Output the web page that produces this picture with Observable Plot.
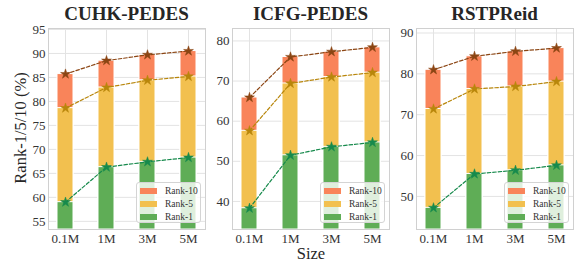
<!DOCTYPE html>
<html><head><meta charset="utf-8">
<script src="https://cdn.jsdelivr.net/npm/d3@7"></script>
<script src="https://cdn.jsdelivr.net/npm/@observablehq/plot@0.6"></script>
<style>
body{margin:0;background:#fff;}
#root{position:relative;width:575px;height:264px;overflow:hidden;font-family:"Liberation Serif","Times New Roman",serif;color:#222;}
.panel{position:absolute;top:0;}
.title{position:absolute;top:3px;font-weight:bold;font-size:19px;text-align:center;white-space:nowrap;color:#262626;}
.ylab{position:absolute;font-size:16.5px;white-space:nowrap;transform:translate(-50%,-50%) rotate(-90deg);color:#262626;}
.xlab{position:absolute;font-size:16.5px;white-space:nowrap;transform:translateX(-50%);color:#262626;}
.legend{position:absolute;width:65px;height:41px;background:rgba(255,255,255,0.8);border:1px solid #d4d4d4;border-radius:3px;box-sizing:border-box;}
.lrow{position:absolute;left:3px;height:13px;display:flex;align-items:center;font-size:9.5px;color:#333;}
.patch{width:17px;height:6px;margin-right:8px;}
</style></head><body><div id="root"></div>
<script>
const sizes = ["0.1M", "1M", "3M", "5M"];
const datasets = ["CUHK-PEDES", "ICFG-PEDES", "RSTPReid"];
const seriesNames = ["Rank-10", "Rank-5", "Rank-1"];

const cuhkRank10 = [85.7, 88.5, 89.7, 90.5];
const cuhkRank5  = [78.6, 82.9, 84.4, 85.2];
const cuhkRank1  = [59.0, 66.3, 67.4, 68.3];

const icfgRank10 = [65.9, 76.0, 77.3, 78.4];
const icfgRank5  = [57.6, 69.4, 71.0, 72.1];
const icfgRank1  = [38.3, 51.5, 53.6, 54.7];

const rstpRank10 = [81.0, 84.3, 85.5, 86.3];
const rstpRank5  = [71.4, 76.3, 76.9, 78.1];
const rstpRank1  = [47.2, 55.5, 56.4, 57.6];

const cuhkTicks = [55, 60, 65, 70, 75, 80, 85, 90, 95];
const icfgTicks = [40, 50, 60, 70, 80];
const rstpTicks = [50, 60, 70, 80, 90];

const barColors = ["#F9845A", "#F2C04F", "#5FAD56"];
const lineColors = ["#8B4513", "#B8860B", "#168A4C"];

const panelData = [
  {name: datasets[0], series: [cuhkRank10, cuhkRank5, cuhkRank1], ticks: cuhkTicks, domain: [53.3, 95.2]},
  {name: datasets[1], series: [icfgRank10, icfgRank5, icfgRank1], ticks: icfgTicks, domain: [33.0, 83.1]},
  {name: datasets[2], series: [rstpRank10, rstpRank5, rstpRank1], ticks: rstpTicks, domain: [41.9, 91.1]}
];

const layout = [
  {left: 0, ml: 48},
  {left: 190, ml: 42},
  {left: 375, ml: 41}
];
const innerW = 157, mr = 1, mt = 28, mb = 35, H = 264;

const root = document.getElementById("root");

panelData.forEach((p, pi) => {
  const L = layout[pi];
  const marks = [
    Plot.gridY(p.ticks, {stroke: "#e3e3e3", strokeOpacity: 1, strokeWidth: 1}),
    Plot.gridX(sizes, {stroke: "#e3e3e3", strokeOpacity: 1, strokeWidth: 1}),
  ];
  p.series.forEach((vals, si) => {
    const rows = sizes.map((s, i) => ({size: s, value: vals[i]}));
    marks.push(Plot.barY(rows, {x: "size", y1: p.domain[0], y2: "value", fill: barColors[si], stroke: "white", strokeWidth: 1}));
  });
  marks.push(Plot.frame({stroke: "#d0d0d0", strokeWidth: 1}));
  p.series.forEach((vals, si) => {
    const rows = sizes.map((s, i) => ({size: s, value: vals[i]}));
    marks.push(Plot.line(rows, {x: "size", y: "value", stroke: lineColors[si], strokeWidth: 1.2, strokeDasharray: "3.5,2"}));
  });
  p.series.forEach((vals, si) => {
    const rows = sizes.map((s, i) => ({size: s, value: vals[i]}));
    marks.push(Plot.dot(rows, {x: "size", y: "value", symbol: "star", r: 3.1, fill: lineColors[si], stroke: lineColors[si], strokeWidth: 0.5}));
  });
  marks.push(Plot.axisY(p.ticks, {tickSize: 0, tickPadding: 3, fontSize: 13, label: null}));
  marks.push(Plot.axisX({tickSize: 0, tickPadding: 4, fontSize: 13, label: null}));

  const chart = Plot.plot({
    width: L.ml + innerW + mr,
    height: H,
    marginTop: mt, marginBottom: mb, marginLeft: L.ml, marginRight: mr,
    style: {fontFamily: '"Liberation Serif","Times New Roman",serif', fontSize: "13px", color: "#333", background: "transparent", overflow: "visible"},
    x: {domain: sizes, paddingInner: 0.6, paddingOuter: 0.17, label: null},
    y: {domain: p.domain, label: null},
    marks
  });
  chart.classList.add("panel");
  chart.style.left = L.left + "px";
  root.appendChild(chart);

  const frameL = L.left + L.ml;
  const frameR = frameL + innerW;

  const t = document.createElement("div");
  t.className = "title";
  t.textContent = p.name;
  t.style.left = frameL + "px";
  t.style.width = innerW + "px";
  root.appendChild(t);

  const lg = document.createElement("div");
  lg.className = "legend";
  lg.style.left = (frameR - 4 - 65) + "px";
  lg.style.top = (H - mb - 6 - 41) + "px";
  seriesNames.forEach((n, si) => {
    const row = document.createElement("div");
    row.className = "lrow";
    row.style.top = (1 + si * 13) + "px";
    const patch = document.createElement("div");
    patch.className = "patch";
    patch.style.background = barColors[si];
    const lab = document.createElement("span");
    lab.textContent = n;
    row.appendChild(patch);
    row.appendChild(lab);
    lg.appendChild(row);
  });
  root.appendChild(lg);
});

const yl = document.createElement("div");
yl.className = "ylab";
yl.textContent = "Rank-1/5/10 (%)";
yl.style.left = "21px";
yl.style.top = "128px";
root.appendChild(yl);

const xl = document.createElement("div");
xl.className = "xlab";
xl.textContent = "Size";
xl.style.left = "311px";
xl.style.top = "244px";
root.appendChild(xl);
</script>
</body></html>
